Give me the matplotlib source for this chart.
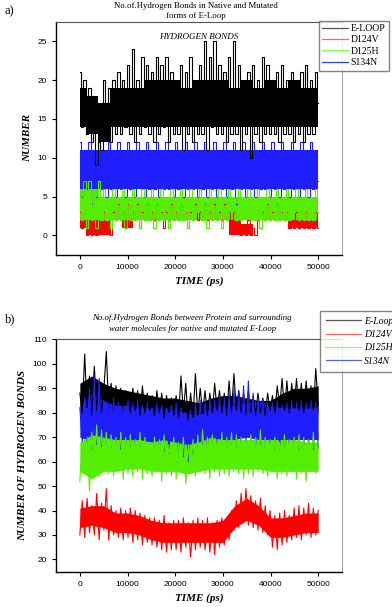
import numpy as np
from matplotlib import pyplot as plt

# ---- panel a: H-bonds within the loop (integer counts) ----
a_eloop = [21,14,20,13,19,12,18,9,17,11,
           20,13,19,12,20,13,21,13,20,14,
           22,13,24,12,20,13,23,14,22,13,
           21,12,23,13,22,14,23,12,21,13,
           20,13,22,11,21,13,23,12,20,13,
           22,13,25,11,23,14,25,13,22,13,
           21,12,23,13,25,13,22,11,20,13,
           21,10,22,13,20,12,23,13,22,13,
           20,13,21,12,22,13,20,13,21,12,
           20,13,21,12,22,13,20,13,21,17]
a_d124v = [3,1,2,0,2,0,1,0,2,1,
           3,1,2,0,3,2,4,2,3,2,
           4,2,3,2,4,1,3,2,4,2,
           3,2,4,2,3,1,3,2,4,2,
           3,2,4,2,3,1,3,2,4,2,
           3,2,4,2,3,2,4,2,3,2,
           4,2,3,2,3,1,2,0,1,0,
           2,0,1,0,2,1,3,2,4,2,
           3,2,4,2,3,2,3,1,2,1,
           3,1,2,1,3,1,2,1,3,1]
a_d125h = [6,2,7,1,7,2,6,1,7,2,
           6,2,5,1,6,2,5,2,6,1,
           5,2,6,2,5,1,6,2,5,2,
           6,1,5,2,6,2,5,1,6,2,
           5,2,6,2,5,1,6,2,5,3,
           6,2,5,1,6,2,5,2,6,1,
           5,2,6,3,5,2,6,2,5,3,
           6,2,5,2,6,1,5,2,6,2,
           5,2,6,2,5,2,6,2,5,3,
           6,2,5,2,6,2,5,2,6,3]
a_s134n = [12,5,11,6,12,4,11,5,12,6,
           11,5,12,6,10,5,12,6,11,5,
           12,6,11,5,12,7,11,5,12,6,
           11,6,12,5,11,6,12,6,11,5,
           12,6,11,5,12,6,11,6,12,5,
           11,6,12,5,11,6,12,5,11,6,
           12,5,11,6,12,4,11,6,12,5,
           11,6,12,5,11,6,12,6,11,5,
           12,6,11,5,12,6,11,5,12,6,
           11,5,12,6,11,5,12,6,11,7]
# dense core of each band, every 2500 ps
a_eloop_lo = [14,13,12,14,14,14,14,14,14,14,14,14,14,14,14,14,14,14,14,14,14]
a_eloop_hi = [19,18,17,19,19,19,20,20,20,19,20,20,20,19,20,19,20,19,20,19,19]
a_d124v_lo = [1,0,0,2,1,2,2,2,2,2,2,2,2,0,0,2,2,2,1,1,1]
a_d124v_hi = [3,2,2,4,3,4,4,4,4,4,4,4,4,2,1.5,4,4,4,3,3,3]
a_d125h_lo = [2,2,2,2,2,2,2,2,2,2,2,2,2,2,2,2,2,2,2,2,2]
a_d125h_hi = [6,6,5,5,5,5,5,5,5,5,5,5,5,5,5,5,5,5,5,5,5]
a_s134n_lo = [6,5,6,6,6,6,6,6,6,6,6,6,6,6,6,6,6,6,6,6,6]
a_s134n_hi = [11,11,11,11,11,11,11,11,11,11,11,11,11,11,11,11,11,11,11,11,11]

# ---- panel b: H-bonds protein - water ----
b_eloop = [88,80,104,82,95,79,99,81,93,80,
           90,105,81,92,80,91,82,90,79,89,
           88,80,90,81,89,79,91,80,88,81,
           87,79,89,80,88,78,87,80,86,79,
           87,78,95,80,92,77,88,78,96,79,
           90,80,89,79,88,80,92,81,89,80,
           88,79,93,80,96,81,89,80,88,79,
           89,80,87,79,88,80,86,79,88,81,
           87,80,91,82,94,81,93,80,92,82,
           94,81,92,80,93,82,91,81,98,83]
b_d124v = [30,44,29,45,31,42,30,47,28,43,
           32,49,28,42,30,40,29,41,28,40,
           29,41,27,40,28,39,26,38,27,37,
           26,37,25,36,24,38,23,35,24,36,
           24,36,23,37,25,35,21,36,24,37,
           25,36,24,37,23,35,22,36,25,37,
           26,35,28,40,32,44,33,47,35,49,
           34,46,33,44,32,45,31,42,30,40,
           25,38,24,39,26,40,27,38,28,41,
           29,42,28,41,30,43,29,41,30,40]
b_d125h = [52,68,55,70,48,72,55,75,54,73,
           56,72,55,71,54,70,56,72,53,70,
           55,71,54,69,56,72,53,70,55,68,
           54,70,56,69,52,71,55,67,54,70,
           53,68,56,70,51,67,55,69,54,71,
           56,73,55,70,53,71,56,69,54,72,
           55,70,54,72,56,71,55,70,53,69,
           55,71,54,70,56,73,55,70,54,69,
           56,70,53,68,55,71,54,69,56,70,
           53,71,55,70,52,69,56,72,55,68]
b_s134n = [82,68,86,66,90,65,95,67,94,66,
           85,67,84,66,86,68,84,65,83,67,
           85,66,84,67,85,66,83,68,84,67,
           82,66,84,65,83,64,82,63,83,66,
           84,64,82,62,80,60,81,63,84,66,
           85,67,84,66,86,67,85,66,87,67,
           86,66,88,67,90,66,89,67,91,68,
           93,67,88,66,86,67,85,66,84,66,
           84,65,85,66,83,66,84,67,85,66,
           84,65,85,66,84,66,85,65,84,66]
b_eloop_lo = [80,80,80,80,80,80,80,80,80,79,79,80,80,80,80,80,80,80,80,80,80]
b_eloop_hi = [92,95,92,90,89,88,87,86,86,85,84,86,87,87,86,85,85,88,90,90,91]
b_d124v_lo = [33,34,33,31,31,30,28,27,27,27,27,27,27,33,36,34,29,29,30,31,31]
b_d124v_hi = [41,42,42,39,39,38,36,35,35,35,35,35,36,42,45,42,37,37,38,39,39]
b_d125h_lo = [56,53,56,56,57,57,56,56,56,55,56,57,57,57,57,57,56,56,56,56,56]
b_d125h_hi = [68,71,70,69,69,69,68,69,68,67,68,70,69,69,69,69,69,69,69,68,68]
b_s134n_lo = [70,68,68,69,69,68,68,67,64,61,67,68,69,69,70,69,69,69,69,69,69]
b_s134n_hi = [83,88,85,83,83,82,82,82,81,80,79,82,83,83,84,85,83,82,82,82,82]

t_end = 50000
c_blk, c_red, c_grn, c_blu = 'black', '#ff0000', '#55ee00', '#1e1eff'

serif = 'Liberation Serif'
sans = 'Liberation Sans'

fig = plt.figure(figsize=(3.92, 6.07), dpi=100)


def style_axes(ax):
    for s in ['left', 'bottom']:
        ax.spines[s].set_linewidth(1.0)
    ax.spines['top'].set_color('#555555')
    ax.spines['right'].set_color('#aaaaaa')
    ax.tick_params(direction='out', length=3, width=0.8, labelsize=6,
                   top=False, right=False)
    for lab in ax.get_xticklabels() + ax.get_yticklabels():
        lab.set_fontfamily(sans)
    ax.set_xlim(-5000, 55000)
    ax.set_xticks([0, 10000, 20000, 30000, 40000, 50000])
    ax.set_xlabel('TIME (ps)', family=serif, style='italic', weight='bold',
                  fontsize=8, labelpad=4)


def draw_trace(ax, vals, lo, hi, col, steps=False):
    tc = np.linspace(0, t_end, len(lo))
    ax.fill_between(tc, lo, hi, color=col, lw=0, step='mid' if steps else None)
    t = np.linspace(0, t_end, len(vals))
    ax.plot(t, vals, color=col, lw=0.8,
            drawstyle='steps-mid' if steps else 'default')


# ---------- panel a ----------
ax1 = fig.add_axes([0.1429, 0.5804, 0.7296, 0.3834])
draw_trace(ax1, a_s134n, a_s134n_lo, a_s134n_hi, c_blu, True)
draw_trace(ax1, a_eloop, a_eloop_lo, a_eloop_hi, c_blk, True)
draw_trace(ax1, a_d124v, a_d124v_lo, a_d124v_hi, c_red, True)
draw_trace(ax1, a_d125h, a_d125h_lo, a_d125h_hi, c_grn, True)
ax1.set_ylim(-2.5, 27.5)
ax1.set_yticks([0, 5, 10, 15, 20, 25])
style_axes(ax1)
ax1.set_ylabel('NUMBER', family=serif, style='italic', weight='bold',
               fontsize=8, labelpad=4)
ax1.text(0.5, 0.935, 'HYDROGEN BONDS', transform=ax1.transAxes, ha='center',
         va='center', family=serif, style='italic', fontsize=6.5)

h_a = [plt.Line2D([], [], color=c, lw=0.9) for c in ['#555555', '#ff6666', '#88ff55', '#3344cc']]
leg_a = fig.legend(h_a, ['E-LOOP', 'D124V', 'D125H', 'S134N'],
                   loc='upper left', bbox_to_anchor=(0.814, 0.966),
                   prop={'family': serif, 'size': 7}, frameon=True, fancybox=False,
                   edgecolor='#666666', handlelength=2.6, handletextpad=0.3,
                   labelspacing=0.25, borderpad=0.35, borderaxespad=0)
leg_a.get_frame().set_linewidth(1.0)

fig.text(0.012, 0.982, 'a)', family=serif, fontsize=9, va='center')
fig.text(0.5, 0.9825, 'No.of.Hydrogen Bonds in Native and Mutated\nforms of E-Loop',
         ha='center', va='center', family=serif, fontsize=6.3, linespacing=1.3)

# ---------- panel b ----------
ax2 = fig.add_axes([0.1429, 0.0582, 0.7296, 0.3828])
draw_trace(ax2, b_eloop, b_eloop_lo, b_eloop_hi, c_blk)
draw_trace(ax2, b_s134n, b_s134n_lo, b_s134n_hi, c_blu)
draw_trace(ax2, b_d125h, b_d125h_lo, b_d125h_hi, c_grn)
draw_trace(ax2, b_d124v, b_d124v_lo, b_d124v_hi, c_red)
ax2.set_ylim(15, 110)
ax2.set_yticks([20, 30, 40, 50, 60, 70, 80, 90, 100, 110])
style_axes(ax2)
ax2.set_ylabel('NUMBER OF HYDROGEN BONDS', family=serif, style='italic',
               weight='bold', fontsize=8, labelpad=4)

h_b = [plt.Line2D([], [], color=c, lw=0.9) for c in ['#555555', '#ff6666', '#88ff55', '#5566dd']]
leg_b = fig.legend(h_b, ['E-Loop', 'D124V', 'D125H', 'S134N'],
                   loc='upper left', bbox_to_anchor=(0.816, 0.488),
                   prop={'family': serif, 'style': 'italic', 'size': 7},
                   frameon=True, fancybox=False, edgecolor='#666666',
                   handlelength=3.6, handletextpad=0.3, labelspacing=0.45,
                   borderpad=0.6, borderaxespad=0)
leg_b.get_frame().set_linewidth(1.0)

fig.text(0.012, 0.474, 'b)', family=serif, fontsize=9, va='center')
fig.text(0.49, 0.467, 'No.of.Hydrogen Bonds between Protein and surrounding\n'
         'water molecules for native and mutated E-Loop',
         ha='center', va='center', family=serif, style='italic', fontsize=6.3,
         linespacing=1.4)

fig.savefig('out.png', dpi=100)
